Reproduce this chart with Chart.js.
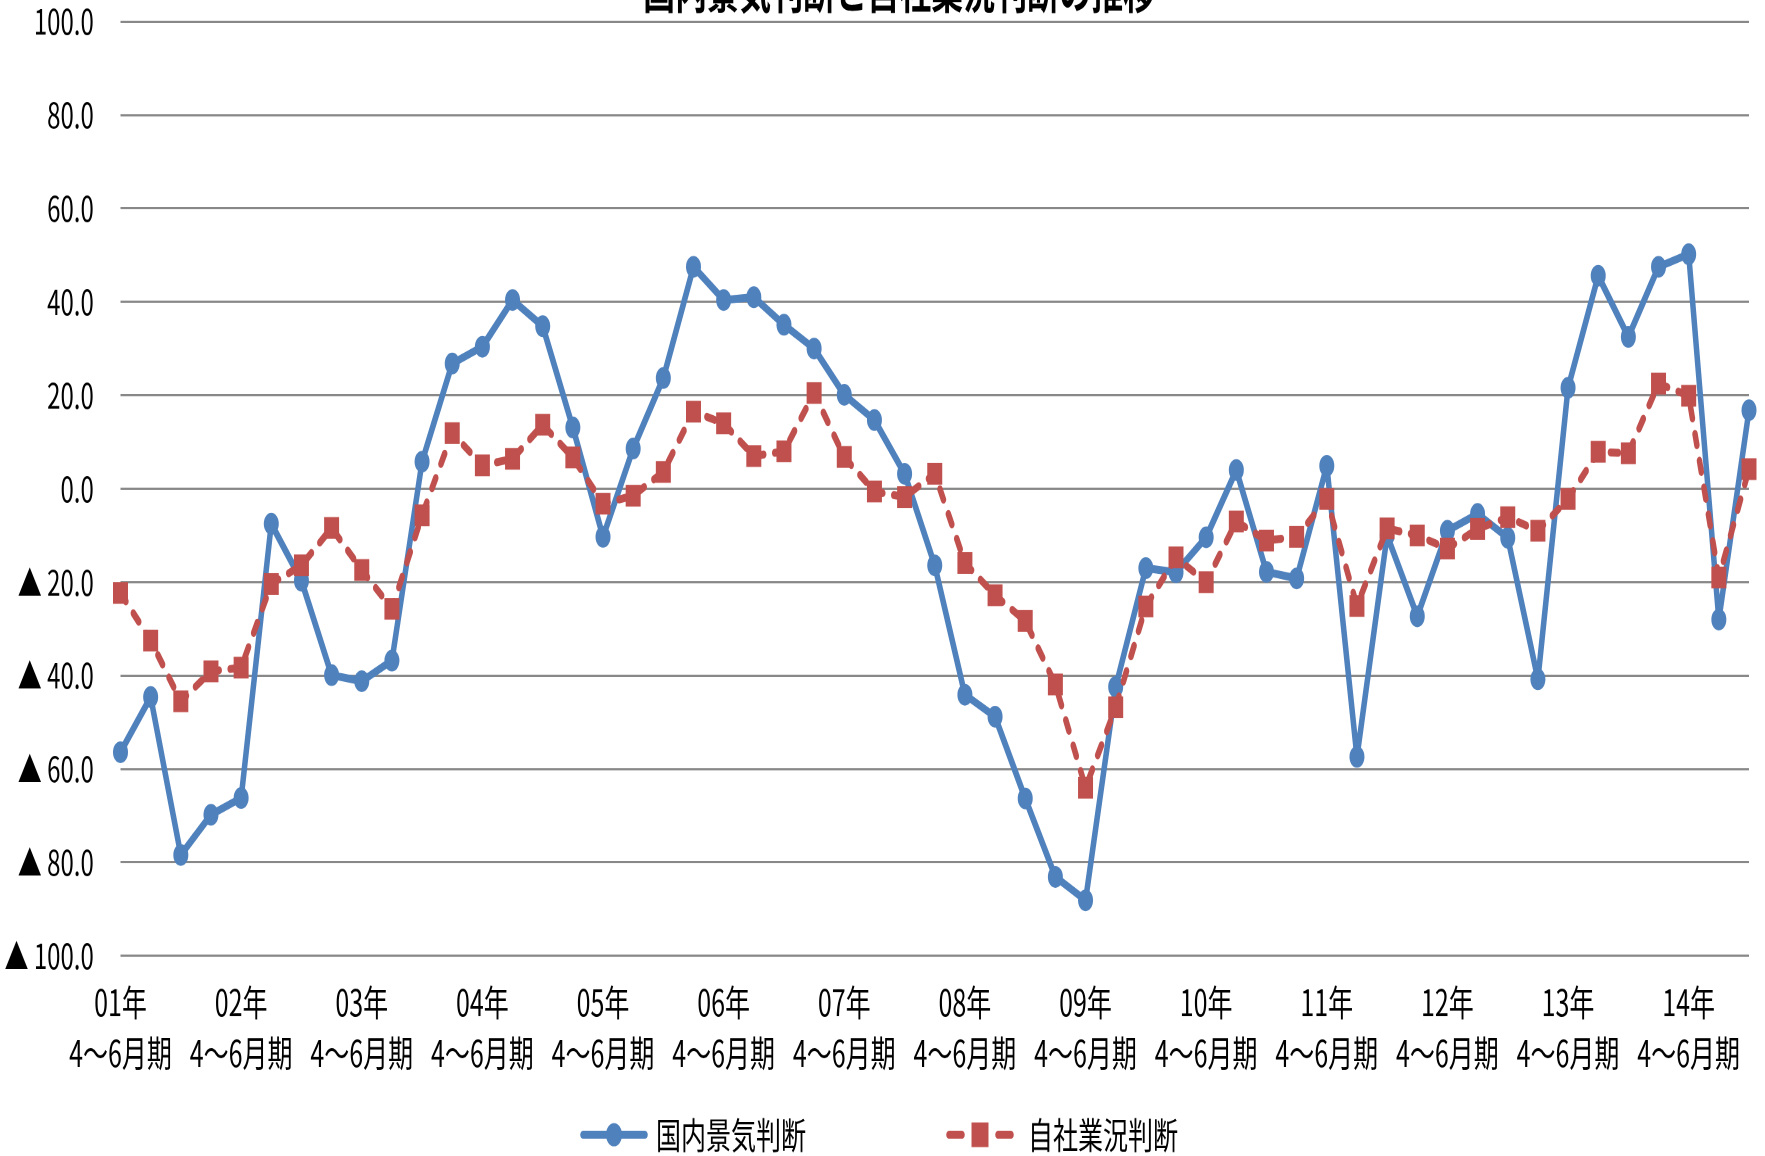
<!DOCTYPE html>
<html lang="ja">
<head>
<meta charset="utf-8">
<title>国内景気判断と自社業況判断の推移</title>
<script src="https://cdn.jsdelivr.net/npm/chart.js@4.4.1/dist/chart.umd.min.js"></script>
<style>
  html, body { margin: 0; padding: 0; background: #fff; }
  #frame { position: relative; width: 1765px; height: 1156px; overflow: hidden; background: #fff; }
  /* the original picture is stretched vertically, so draw flat and stretch */
  #stretch { position: absolute; left: 0; top: -38.1px; width: 1765px; height: 824px; transform: scaleY(1.45); transform-origin: 0 0; }
</style>
</head>
<body>
<div id="frame"><div id="stretch"><canvas id="chart"></canvas></div></div>
<script>
const FONT = "'Noto Sans CJK JP', 'Noto Sans', sans-serif";
const BLUE = '#4F81BD';
const RED = '#C0504D';

// year labels (one per 4 quarters) and quarter names
const years = ['01年', '02年', '03年', '04年', '05年', '06年', '07年', '08年', '09年', '10年', '11年', '12年', '13年', '14年'];
const quarters = ['4～6月期', '7～9月期', '10～12月期', '1～3月期'];

// 国内景気判断 (01年4～6月期 .. 14年10～12月期)
const domestic = [
  -56.4, -44.6, -78.4, -69.8, -66.2, -7.5, -19.7, -39.9, -41.2, -36.8,
  5.8, 26.8, 30.4, 40.4, 34.8, 13.1, -10.3, 8.6, 23.7, 47.5,
  40.4, 41.0, 35.1, 30.0, 20.1, 14.7, 3.2, -16.4, -44.1, -48.8,
  -66.3, -83.1, -88.1, -42.4, -17.0, -17.9, -10.4, 4.0, -17.8, -19.2,
  4.9, -57.4, -10.0, -27.3, -9.0, -5.4, -10.5, -40.8, 21.6, 45.6,
  32.5, 47.5, 50.2, -28.0, 16.8
];

// 自社業況判断
const ownBusiness = [
  -22.3, -32.5, -45.5, -39.1, -38.3, -20.4, -16.4, -8.4, -17.4, -25.7,
  -5.7, 11.9, 5.0, 6.4, 13.7, 6.7, -3.2, -1.5, 3.6, 16.5,
  14.0, 7.0, 8.0, 20.5, 6.8, -0.6, -1.8, 3.2, -15.9, -22.8,
  -28.3, -41.9, -64.0, -46.8, -25.2, -14.7, -20.0, -7.0, -11.1, -10.3,
  -2.2, -25.1, -8.5, -10.0, -12.8, -8.6, -6.1, -9.0, -2.2, 7.9,
  7.6, 22.5, 19.9, -19.0, 4.2
];

const yTickValues = [-100, -80, -60, -40, -20, 0, 20, 40, 60, 80, 100];

const categories = [];
for (let i = 0; i < domestic.length; i++) {
  categories.push([years[Math.floor(i / 4)], quarters[i % 4]]);
}

function fmtY(v) {
  if (v < 0) return '▲ ' + Math.abs(v).toFixed(1);
  return v.toFixed(1);
}

// legend row like the spreadsheet one: line sample + marker + name
const legendRow = {
  id: 'legendRow',
  afterDraw(chart, args, opts) {
    const ctx = chart.ctx;
    ctx.save();
    opts.items.forEach(item => {
      const ds = chart.data.datasets[item.dataset];
      const x = item.x, y = opts.y;
      ctx.strokeStyle = ds.borderColor;
      ctx.fillStyle = ds.borderColor;
      ctx.lineWidth = ds.borderWidth;
      ctx.lineCap = 'round';
      ctx.beginPath();
      if (ds.borderDash) {
        ctx.moveTo(x + 3, y); ctx.lineTo(x + 16, y);
        ctx.moveTo(x + 52, y); ctx.lineTo(x + 65, y);
      } else {
        ctx.moveTo(x + 3, y); ctx.lineTo(x + 65, y);
      }
      ctx.stroke();
      if (ds.pointStyle === 'rect') {
        ctx.fillRect(x + 34 - 8.5, y - 8.5, 17, 17);
      } else {
        ctx.beginPath();
        ctx.arc(x + 34, y, 8, 0, Math.PI * 2);
        ctx.fill();
      }
      ctx.fillStyle = '#000';
      ctx.font = '25px ' + FONT;
      ctx.textAlign = 'left';
      ctx.textBaseline = 'middle';
      ctx.fillText(ds.label, x + item.textOffset, y);
    });
    ctx.restore();
  }
};

new Chart(document.getElementById('chart'), {
  type: 'line',
  data: {
    labels: categories,
    datasets: [
      {
        label: '国内景気判断',
        data: domestic,
        borderColor: BLUE,
        backgroundColor: BLUE,
        borderWidth: 5.5,
        borderJoinStyle: 'round',
        pointStyle: 'circle',
        pointRadius: 7.5,
        pointHoverRadius: 7.5,
        pointBorderWidth: 0,
        tension: 0,
        clip: false,
        order: 1
      },
      {
        label: '自社業況判断',
        data: ownBusiness,
        borderColor: RED,
        backgroundColor: RED,
        borderWidth: 5.5,
        borderDash: [8, 11],
        borderCapStyle: 'round',
        borderJoinStyle: 'round',
        pointStyle: 'rect',
        pointRadius: 10.6,
        pointHoverRadius: 10.6,
        pointBorderWidth: 0,
        tension: 0,
        clip: false,
        order: 0
      }
    ]
  },
  options: {
    responsive: true,
    maintainAspectRatio: false,
    animation: false,
    devicePixelRatio: 2,
    layout: { padding: { top: 0, left: 0, right: 16, bottom: 54.2 } },
    plugins: {
      title: {
        display: true,
        fullSize: false,
        text: '国内景気判断と自社業況判断の推移　　 ',
        color: '#000',
        font: { family: FONT, size: 32, weight: 'bold' },
        padding: { top: 0, bottom: 2 }
      },
      legend: { display: false },
      tooltip: { enabled: false },
      legendRow: {
        y: 808.8,
        items: [
          { dataset: 0, x: 580, textOffset: 76 },
          { dataset: 1, x: 946, textOffset: 82 }
        ]
      }
    },
    scales: {
      x: {
        grid: { display: false, drawTicks: false },
        border: { display: false },
        ticks: {
          autoSkip: false,
          maxRotation: 0,
          minRotation: 0,
          padding: 14.4,
          color: '#000',
          font: { family: FONT, size: 25, lineHeight: 1.4 },
          callback: (value, index) => (index % 4 === 0 ? categories[index] : '')
        },
        afterFit(scale) { scale.height = 84.4; }
      },
      y: {
        min: -100,
        max: 100,
        afterBuildTicks(scale) { scale.ticks = yTickValues.map(v => ({ value: v })); },
        grid: { color: '#888888', lineWidth: 1.5, drawTicks: false },
        border: { display: false },
        ticks: {
          padding: 26.7,
          color: '#000',
          font: { family: FONT, size: 24 },
          callback: v => fmtY(v)
        },
        afterFit(scale) { scale.width = 120.5; }
      }
    }
  },
  plugins: [legendRow]
});
</script>
</body>
</html>
